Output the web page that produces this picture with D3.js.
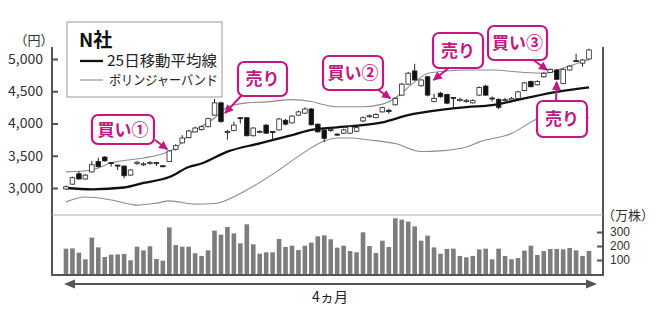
<!DOCTYPE html>
<html>
<head>
<meta charset="utf-8">
<script src="https://cdn.jsdelivr.net/npm/d3@7"></script>
<style>
  body { margin: 0; background: #fff; }
  text { font-family: "Noto Sans CJK JP", "Noto Sans", sans-serif; }
</style>
</head>
<body>
<div id="container"></div>
<script>
// daily candles (yen)
const opens  = [2985,3060,3220,3140,3250,3410,3480,3395,3355,3340,3200,3380,3365,3385,3395,3345,3410,3600,3700,3780,3870,3905,3950,4130,4320,3865,3890,4090,4090,3810,3865,3975,3875,3900,4050,4010,4130,4160,4225,3990,3900,3895,3835,3850,3850,3880,4040,4110,4090,4180,4205,4290,4440,4610,4815,4585,4725,4340,4470,4450,4405,4355,4340,4320,4440,4580,4395,4375,4360,4365,4390,4510,4650,4600,4725,4790,4830,4620,4830,4975,4935,5000];
const highs  = [3040,3175,3260,3215,3420,3470,3495,3400,3360,3350,3290,3420,3400,3420,3400,3350,3590,3680,3820,3900,3950,3970,4090,4380,4340,3900,4030,4095,4100,3940,3900,3990,3880,4085,4070,4130,4200,4250,4240,4000,3910,3930,3850,3920,3965,3950,4110,4140,4160,4260,4230,4410,4630,4800,4925,4690,4740,4460,4490,4460,4410,4400,4380,4375,4575,4600,4420,4390,4400,4410,4505,4645,4665,4670,4795,4855,4845,4855,4905,5080,5000,5160];
const lows   = [2975,3050,3130,3130,3240,3320,3410,3330,3280,3150,3190,3360,3340,3360,3340,3320,3400,3580,3690,3770,3860,3890,3940,4120,4010,3750,3880,4000,3800,3800,3850,3840,3750,3890,3970,4000,4120,4150,3970,3860,3710,3870,3810,3840,3840,3870,4020,4090,4080,4170,4150,4280,4430,4600,4660,4570,4420,4330,4400,4300,4225,4340,4320,4310,4430,4430,4340,4220,4340,4350,4380,4500,4560,4590,4710,4780,4670,4610,4820,4960,4880,4990];
const closes = [3020,3160,3140,3200,3360,3330,3420,3385,3350,3190,3280,3400,3375,3395,3390,3340,3575,3655,3775,3885,3930,3950,4075,4320,4030,3875,3975,4085,3810,3930,3875,3850,3870,4070,3990,4115,4180,4225,3980,3870,3770,3905,3830,3900,3950,3935,4090,4120,4140,4245,4185,4390,4610,4780,4675,4675,4440,4390,4415,4315,4400,4375,4360,4355,4560,4440,4390,4250,4370,4390,4490,4630,4570,4650,4780,4840,4685,4840,4890,4970,4985,5140];

// volume (10,000 shares)
const volumes = [181,183,152,105,260,190,121,138,140,143,98,195,169,198,107,95,333,207,195,195,148,129,169,310,281,336,290,219,355,212,145,155,155,250,193,202,171,202,224,269,276,248,188,202,164,155,298,200,150,238,193,398,388,374,340,238,274,190,145,179,181,129,119,129,176,181,105,181,129,105,114,167,202,136,164,179,179,176,186,169,129,164];

// 25-day moving average and bollinger bands, sampled at candle index
const maIdx = [0,4,9,12,16,19,21,25,30,35,38,42,45,49,53,58,62,66,71,76,81];
const maVal = [3000,2980,3008,3078,3170,3325,3380,3563,3693,3820,3900,3940,3965,4018,4130,4210,4255,4285,4390,4490,4560];
const upIdx = [0,4,7,12,15,17,19,23,25,28,31,35,38,40,42,46,49,51,54,56,59,62,66,71,74,77,80,81];
const upVal = [3250,3280,3390,3465,3530,3620,3820,4085,4255,4320,4335,4370,4340,4290,4260,4260,4300,4395,4645,4775,4815,4830,4830,4790,4780,4860,4960,4990];
const loIdx = [0,3,7,11,14,16,20,23,28,33,37,40,42,44,47,51,55,58,62,64,69,73,77,81];
const loVal = [2785,2860,2815,2735,2765,2800,2750,2760,2970,3280,3560,3730,3775,3775,3745,3690,3565,3575,3635,3715,3845,4070,4140,4090];

const priceTicks = [3000,3500,4000,4500,5000];
const volumeTicks = [100,200,300];

const W = 670, H = 317;
const MAG = "#c4177f";

const svg = d3.select("#container").append("svg")
    .attr("width", W)
    .attr("height", H);

const defs = svg.append("defs");
defs.append("marker")
    .attr("id", "tip")
    .attr("viewBox", "0 0 10 10")
    .attr("refX", 9).attr("refY", 5)
    .attr("markerWidth", 9).attr("markerHeight", 9)
    .attr("markerUnits", "userSpaceOnUse")
    .attr("orient", "auto")
    .append("path").attr("d", "M0,0L10,5L0,10Z").attr("fill", MAG);

const x = d3.scaleLinear().domain([0, closes.length - 1]).range([66, 589]);
const y = d3.scaleLinear().domain([3000, 5000]).range([188, 59]);
const yv = d3.scaleLinear().domain([0, 300]).range([274, 232]);
const bw = 4.6;

// frame
const frame = svg.append("g").attr("stroke", "#555").attr("stroke-width", 2);
frame.append("line").attr("x1", 52).attr("x2", 52).attr("y1", 47).attr("y2", 275);
frame.append("line").attr("x1", 603).attr("x2", 603).attr("y1", 47).attr("y2", 275);
frame.append("line").attr("x1", 51).attr("x2", 604).attr("y1", 275).attr("y2", 275);
svg.append("line").attr("x1", 52).attr("x2", 603).attr("y1", 215).attr("y2", 215)
    .attr("stroke", "#b0b0b0").attr("stroke-width", 1);

// axes
const yAxis = svg.append("g").attr("transform", "translate(52,0)")
    .call(d3.axisLeft(y).tickValues(priceTicks).tickFormat(d3.format(",")).tickSize(-6).tickPadding(9));
const vAxis = svg.append("g").attr("transform", "translate(603,0)")
    .call(d3.axisRight(yv).tickValues(volumeTicks).tickSize(-6).tickPadding(7));
[yAxis, vAxis].forEach(a => {
    a.select(".domain").remove();
    a.selectAll(".tick line").attr("stroke", "#555").attr("stroke-width", 2);
    a.selectAll("text").attr("fill", "#333");
});
yAxis.selectAll("text").style("font-size", "14px")
    .style("font-family", "'Noto Sans CJK JP', sans-serif");
// tight line box so the stacked volume labels don't collide
vAxis.selectAll("text").style("font-size", "12px")
    .style("font-family", "'Liberation Sans', sans-serif");
svg.append("text").attr("x", 34).attr("y", 45).attr("text-anchor", "middle")
    .attr("fill", "#333").style("font-size", "13px").text("（円）");
svg.append("text").attr("x", 628).attr("y", 220).attr("text-anchor", "middle")
    .attr("fill", "#333").style("font-size", "13px").text("（万株）");

// volume
svg.append("g").selectAll("rect")
    .data(volumes)
    .join("rect")
    .attr("x", (d, i) => x(i) - bw / 2)
    .attr("width", bw)
    .attr("y", d => yv(d))
    .attr("height", d => yv(0) - yv(d))
    .attr("fill", "#7d7d7d");

// bands and MA
const curve = (idx, val) => d3.line().curve(d3.curveMonotoneX)
    .x((d, k) => x(idx[k])).y(d => y(d))(val);
svg.append("path").attr("d", curve(upIdx, upVal))
    .attr("fill", "none").attr("stroke", "#8c8c8c").attr("stroke-width", 1.1);
svg.append("path").attr("d", curve(loIdx, loVal))
    .attr("fill", "none").attr("stroke", "#8c8c8c").attr("stroke-width", 1.1);
svg.append("path").attr("d", curve(maIdx, maVal))
    .attr("fill", "none").attr("stroke", "#111").attr("stroke-width", 2.3);

// candles
const candles = svg.append("g").selectAll("g")
    .data(closes.map((c, i) => ({i, o: opens[i], h: highs[i], l: lows[i], c})))
    .join("g");
candles.append("line")
    .attr("x1", d => x(d.i)).attr("x2", d => x(d.i))
    .attr("y1", d => y(d.h)).attr("y2", d => y(d.l))
    .attr("stroke", "#222").attr("stroke-width", 1);
candles.append("rect")
    .attr("x", d => x(d.i) - bw / 2)
    .attr("width", bw)
    .attr("y", d => y(Math.max(d.o, d.c)))
    .attr("height", d => Math.max(1, Math.abs(y(d.o) - y(d.c))))
    .attr("fill", d => d.c >= d.o ? "#fff" : "#111")
    .attr("stroke", "#222").attr("stroke-width", 0.8);

// legend
const lg = svg.append("g");
lg.append("rect").attr("x", 67).attr("y", 22).attr("width", 155).attr("height", 75)
    .attr("fill", "#fff").attr("stroke", "#9a9a9a").attr("stroke-width", 1);
lg.append("text").attr("x", 79).attr("y", 47).attr("fill", "#111")
    .style("font-size", "19px").style("font-weight", "bold").text("N社");
lg.append("line").attr("x1", 80).attr("x2", 103).attr("y1", 61).attr("y2", 61)
    .attr("stroke", "#111").attr("stroke-width", 2.3);
lg.append("text").attr("x", 107).attr("y", 66).attr("fill", "#222")
    .attr("textLength", 110).attr("lengthAdjust", "spacingAndGlyphs")
    .style("font-size", "15px").text("25日移動平均線");
lg.append("line").attr("x1", 80).attr("x2", 103).attr("y1", 80).attr("y2", 80)
    .attr("stroke", "#8c8c8c").attr("stroke-width", 1.1);
lg.append("text").attr("x", 109).attr("y", 85).attr("fill", "#222")
    .attr("textLength", 109).attr("lengthAdjust", "spacingAndGlyphs")
    .style("font-size", "13.5px").text("ボリンジャーバンド");

// callouts
const callouts = [
    {text: "買い①", bx: 92, by: 115, w: 62, h: 29, from: [155, 140], idx: 16, price: 3600, dx: -2},
    {text: "売り", bx: 238, by: 62, w: 49, h: 34, from: [242, 95], idx: 24, price: 4160, dx: 4},
    {text: "買い②", bx: 323, by: 56, w: 60, h: 34, from: [377, 89], idx: 51, price: 4390, dx: -5},
    {text: "売り", bx: 433, by: 33, w: 50, h: 35, from: [450, 67], idx: 56, price: 4675, dx: 6},
    {text: "買い③", bx: 488, by: 26, w: 59, h: 34, from: [532, 59], idx: 75, price: 4830, dx: -3},
    {text: "売り", bx: 537, by: 101, w: 50, h: 36, from: [556, 101], idx: 76, price: 4645, dx: 0}
];
const co = svg.append("g").selectAll("g").data(callouts).join("g");
co.append("line")
    .attr("x1", d => d.from[0]).attr("y1", d => d.from[1])
    .attr("x2", d => x(d.idx) + d.dx).attr("y2", d => y(d.price))
    .attr("stroke", MAG).attr("stroke-width", 2)
    .attr("marker-end", "url(#tip)");
co.append("rect")
    .attr("x", d => d.bx).attr("y", d => d.by)
    .attr("width", d => d.w).attr("height", d => d.h)
    .attr("rx", 6)
    .attr("fill", "#fff").attr("stroke", MAG).attr("stroke-width", 2.2);
co.append("text")
    .attr("x", d => d.bx + d.w / 2).attr("y", d => d.by + d.h / 2 + 6)
    .attr("text-anchor", "middle").attr("fill", MAG)
    .style("font-size", "17px").style("font-weight", "bold")
    .text(d => d.text);

// period arrow
const ar = svg.append("g");
ar.append("line").attr("x1", 70).attr("x2", 590).attr("y1", 284).attr("y2", 284)
    .attr("stroke", "#555").attr("stroke-width", 2);
ar.append("path").attr("d", "M64,284L75,279.5L75,288.5Z").attr("fill", "#555");
ar.append("path").attr("d", "M597,284L586,279.5L586,288.5Z").attr("fill", "#555");
ar.append("text").attr("x", 330).attr("y", 302).attr("text-anchor", "middle")
    .attr("fill", "#222").style("font-size", "14px").text("4ヵ月");
</script>
</body>
</html>
